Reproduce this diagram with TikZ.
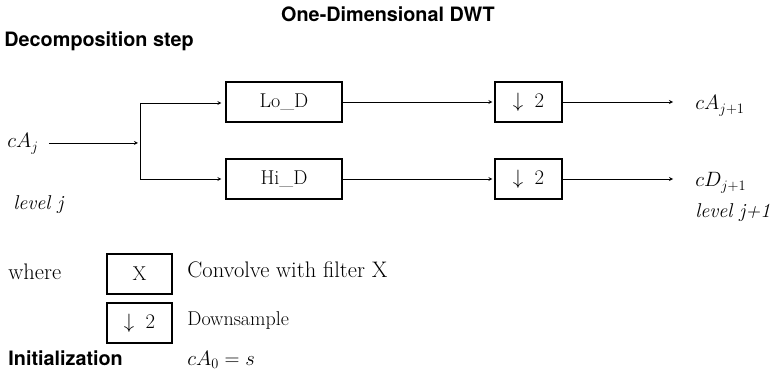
\documentclass[tikz,border=0pt]{standalone}
\usepackage{fontspec}
\setsansfont{TeX Gyre Heros}

\begin{document}
\begin{tikzpicture}[x=1pt, y=-1pt, >=stealth, line width=0.8pt,
    font=\fontsize{20}{24}\selectfont,
    block/.style={draw, line width=1.1pt, minimum width=116pt, minimum height=40pt, inner sep=0pt},
    dsblock/.style={block, minimum width=67pt},
    keyblock/.style={block, minimum width=65pt},
    head/.style={font=\fontsize{19.8}{23}\selectfont\sffamily\bfseries, inner sep=0pt},
    lbl/.style={inner sep=0pt, anchor=base west},
    widelbl/.style={lbl, font=\fontsize{22.5}{26}\selectfont}]
  \useasboundingbox (0,0) rectangle (775,371);

  % headings
  \node[head, anchor=base] (title) at (388,22) {One-Dimensional DWT};
  \node[head, anchor=base west] (decomp) at (4,47) {Decomposition step};

  % filter bank
  \node[block] (lod) at (284,102) {Lo\_D};
  \node[block] (hid) at (284,179) {Hi\_D};
  \node[dsblock] (dsa) at (528.5,102) {$\downarrow\;2$};
  \node[dsblock] (dsd) at (528.5,179) {$\downarrow\;2$};

  \node[lbl] (cAj) at (7,148) {$cA_j$};
  \node[lbl] (levj) at (13,210) {\itshape level j};
  \node[lbl] (cAnext) at (695,110) {$cA_{j+1}$};
  \node[lbl] (cDnext) at (695,187) {$cD_{j+1}$};
  \node[lbl] (levnext) at (695,218) {\itshape level j+1};

  \coordinate (split) at (140,143);
  \coordinate (brtop) at (140,103);
  \coordinate (brbot) at (140,179);

  \draw[->, shorten <=10pt, shorten >=2pt] (cAj.east |- split) -- (split);
  \draw (brtop) -- (brbot);
  \draw[->, shorten >=4pt] (brtop) -- (brtop -| lod.west);
  \draw[->, shorten >=4pt] (brbot) -- (hid);
  \draw[->, shorten >=2pt] (lod) -- (dsa);
  \draw[->, shorten >=2pt] (hid) -- (dsd);
  \draw[->, shorten >=22pt] (dsa.east) -- (dsa.east -| cAnext.west);
  \draw[->, shorten >=22pt] (dsd.east) -- (dsd.east -| cDnext.west);

  % key
  \node[widelbl] (where) at (8,279) {where};
  \node[keyblock] (keyx) at (139.5,274) {X};
  \node[keyblock] (keyds) at (139.5,323) {$\downarrow\;2$};
  \node[widelbl] (conv) at (187,277) {Convolve with filter X};
  \node[lbl] (down) at (187,325) {Downsample};
  \node[head, anchor=base west] (init) at (8,365) {Initialization};
  \node[lbl] (cAzero) at (187,365) {$cA_0 = s$};
\end{tikzpicture}
\end{document}
